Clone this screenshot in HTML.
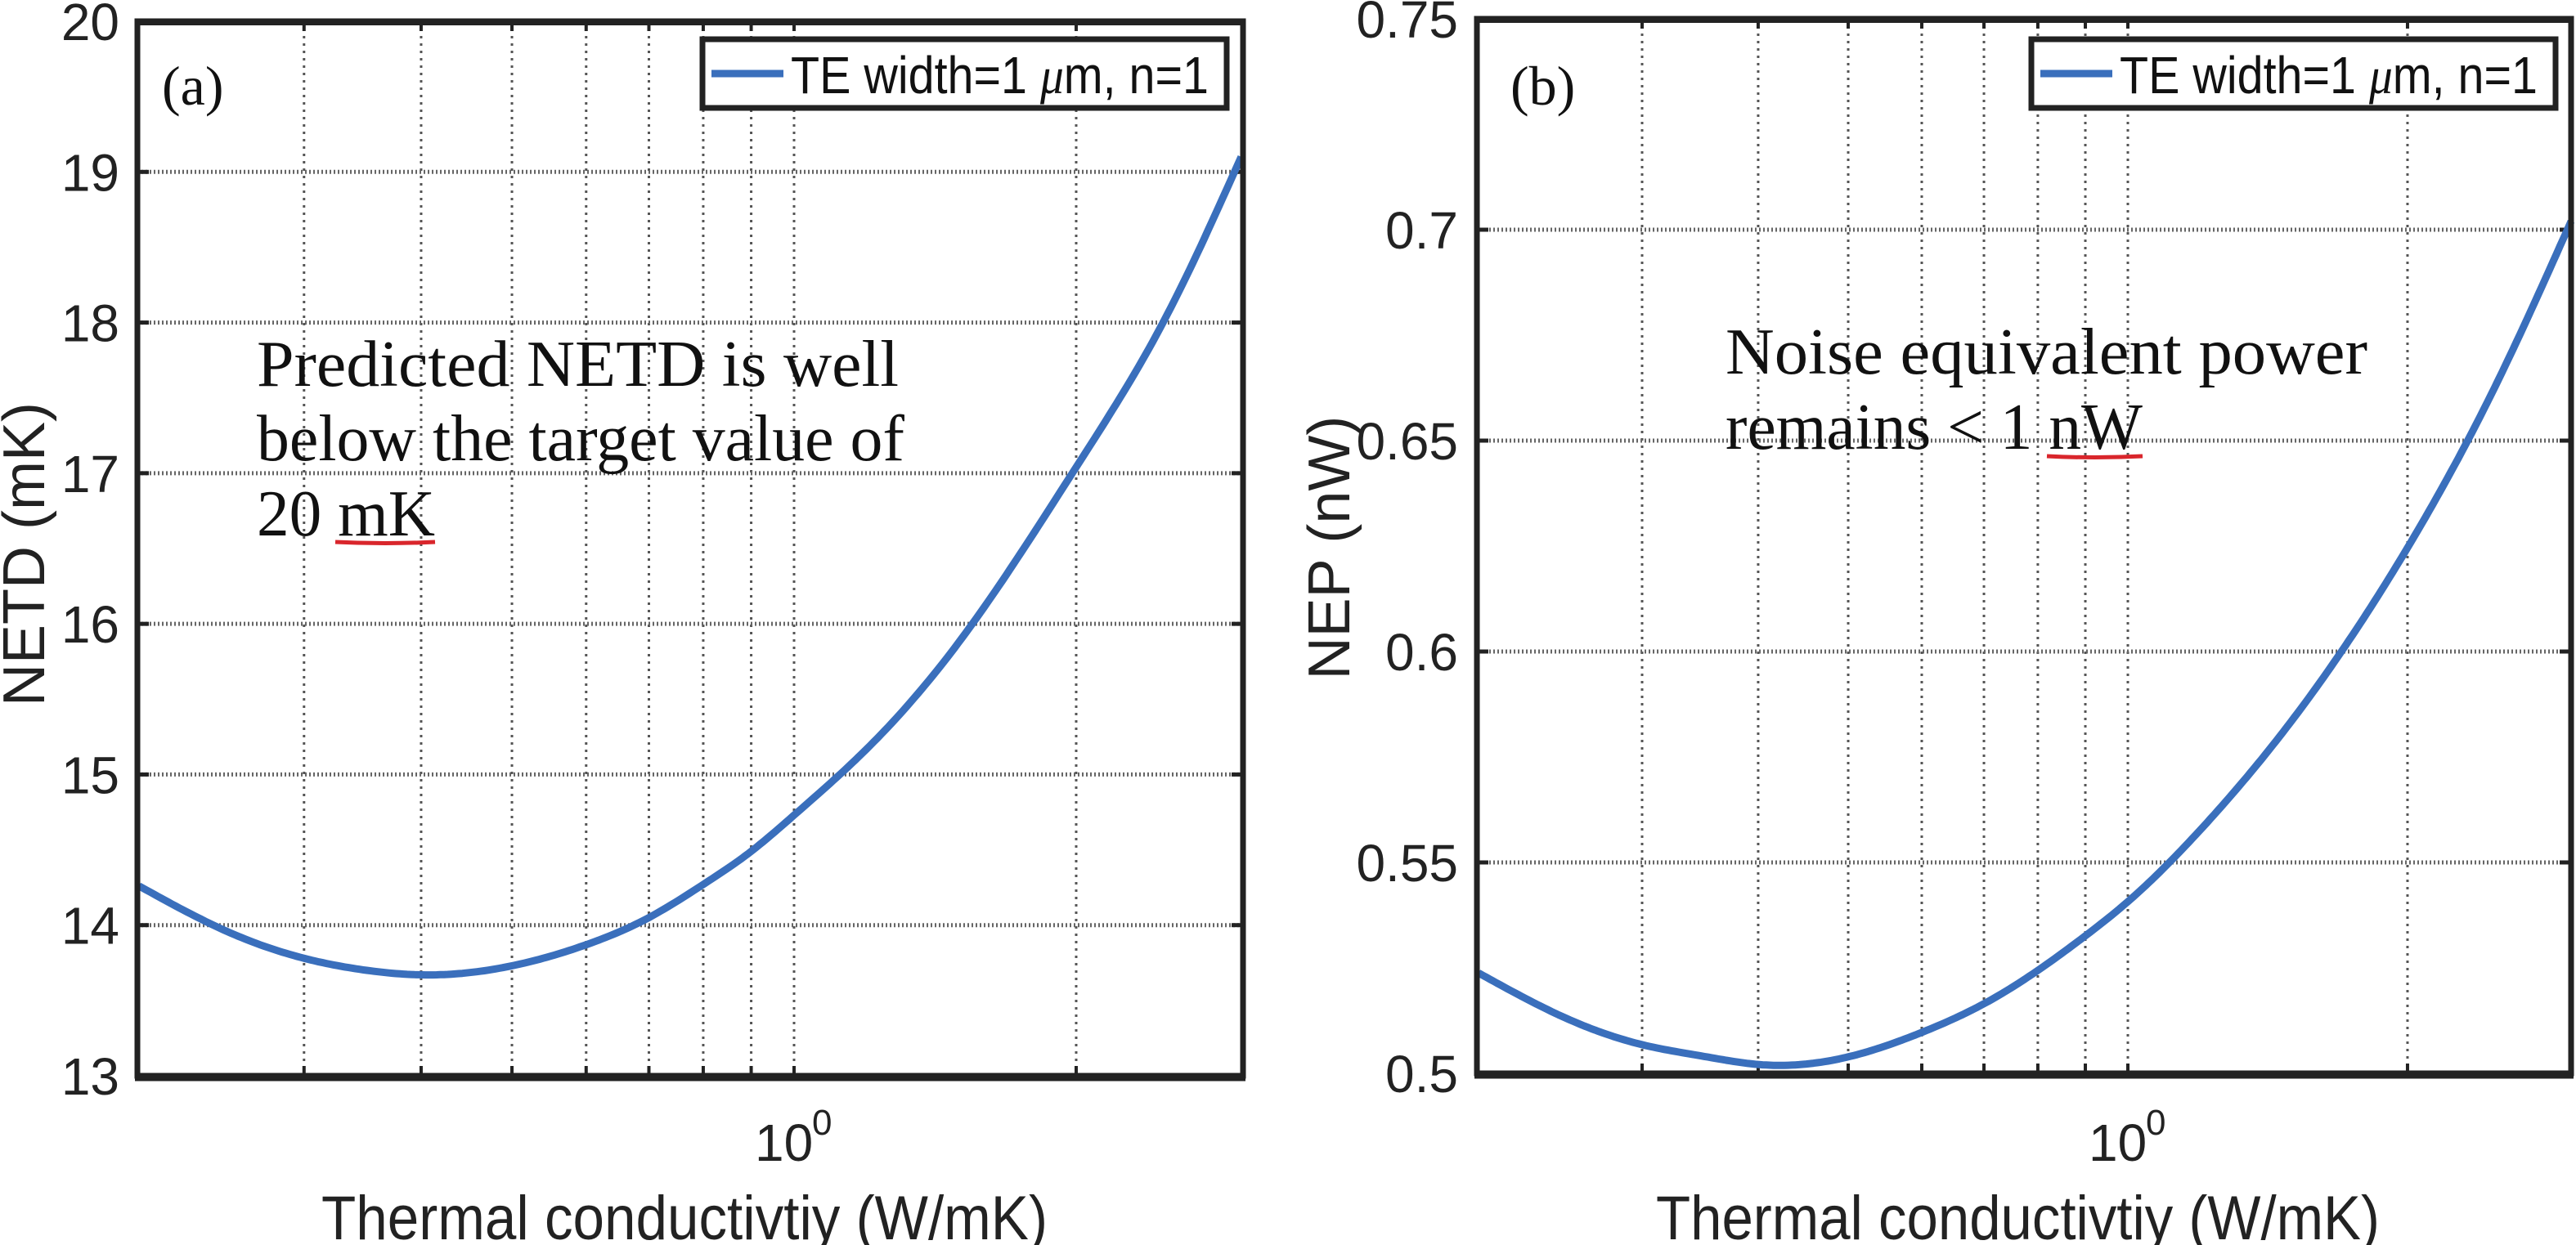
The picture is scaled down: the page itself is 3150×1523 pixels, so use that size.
<!DOCTYPE html>
<html><head><meta charset="utf-8">
<style>
html,body{margin:0;padding:0;background:#fff;}
svg{display:block;}
</style></head>
<body>
<svg id="fig" width="3150" height="1523" viewBox="0 0 3150 1523" xmlns="http://www.w3.org/2000/svg">
<rect x="0" y="0" width="3150" height="1523" fill="#fff"/>
</svg>
<script>
// ---- data ----
const kValues = [0.2,0.25,0.3,0.35,0.4,0.5,0.6,0.7,0.8,0.9,1.0,1.2,1.5,2.0,2.5,3.0];
const netdValues = [14.26,13.95,13.78,13.70,13.67,13.73,13.87,14.05,14.27,14.49,14.73,15.18,15.88,17.04,18.05,19.1];
const nepValues = [0.5238,0.5128,0.5068,0.504,0.5021,0.5039,0.5097,0.5165,0.5244,0.5326,0.5407,0.558,0.5835,0.6246,0.664,0.702];
const xGridValues = [0.3,0.4,0.5,0.6,0.7,0.8,0.9,1,2];
const netdTicks = [13,14,15,16,17,18,19,20];
const netdTickLabels = ["13","14","15","16","17","18","19","20"];
const nepTicks = [0.5,0.55,0.6,0.65,0.7,0.75];
const nepTickLabels = ["0.5","0.55","0.6","0.65","0.7","0.75"];

const NS = "http://www.w3.org/2000/svg";
const svg = document.getElementById('fig');
function mk(tag, attrs, parent){
  const e = document.createElementNS(NS, tag);
  for (const k in attrs) e.setAttribute(k, attrs[k]);
  (parent||svg).appendChild(e);
  return e;
}
// natural cubic spline
function spline(xs, ys){
  const n = xs.length, h=[], a=[], l=[1], mu=[0], z=[0], c=new Array(n).fill(0), b=[], d=[];
  for (let i=0;i<n-1;i++) h.push(xs[i+1]-xs[i]);
  for (let i=1;i<n-1;i++) a[i]=3/h[i]*(ys[i+1]-ys[i])-3/h[i-1]*(ys[i]-ys[i-1]);
  for (let i=1;i<n-1;i++){ l[i]=2*(xs[i+1]-xs[i-1])-h[i-1]*mu[i-1]; mu[i]=h[i]/l[i]; z[i]=(a[i]-h[i-1]*z[i-1])/l[i]; }
  l[n-1]=1; z[n-1]=0;
  for (let j=n-2;j>=0;j--){ c[j]=z[j]-mu[j]*c[j+1]; b[j]=(ys[j+1]-ys[j])/h[j]-h[j]*(c[j+1]+2*c[j])/3; d[j]=(c[j+1]-c[j])/(3*h[j]); }
  return function(x){
    let j=0; while (j<n-2 && x>xs[j+1]) j++;
    const t=x-xs[j];
    return ys[j]+b[j]*t+c[j]*t*t+d[j]*t*t*t;
  };
}

function drawPanel(cfg){
  const g = mk('g', {});
  
  
  const L=cfg.left,R=cfg.right,T=cfg.top,B=cfg.bottom;
  const xs = v => cfg.x0 + cfg.D*Math.log10(v);
  const ys = v => B - (v-cfg.ymin)/(cfg.ymax-cfg.ymin)*(B-T);
  xGridValues.forEach(v=>{
    const l = mk('line',{x1:xs(v),x2:xs(v),y1:T,y2:B,stroke:'#555','stroke-width':3,'stroke-dasharray':'3 6'},g);
    
    
    mk('line',{x1:xs(v),x2:xs(v),y1:B,y2:B-12,stroke:'#222','stroke-width':4},g);
    mk('line',{x1:xs(v),x2:xs(v),y1:T,y2:T+12,stroke:'#222','stroke-width':4},g);
  });
  cfg.ticks.forEach((v,i)=>{
    const y = ys(v);
    if (i>0 && i<cfg.ticks.length-1){
      const l = mk('line',{x1:L,x2:R,y1:y,y2:y,stroke:'#666','stroke-width':5,'stroke-dasharray':'2 3'},g);
      
      
      mk('line',{x1:L,x2:L+14,y1:y,y2:y,stroke:'#222','stroke-width':5},g);
      mk('line',{x1:R,x2:R-14,y1:y,y2:y,stroke:'#222','stroke-width':5},g);
    }
    const t = mk('text',{x:cfg.tickRight,y:y+23,'text-anchor':'end','font-family':'Liberation Sans, sans-serif','font-size':64,fill:'#222'},g);
    t.textContent = cfg.tickLabels[i];
    
    
  });
  // curve via spline in log space
  const us = kValues.map(k=>Math.log10(k));
  const f = spline(us, cfg.values);
  let d = '';
  const N = 300;
  for (let i=0;i<=N;i++){
    const u = us[0] + (us[us.length-1]-us[0])*i/N;
    const px = cfg.x0 + cfg.D*u, py = ys(f(u));
    d += (i? ' L':'M')+px.toFixed(1)+','+py.toFixed(1);
  }
  const c = mk('path',{d:d,fill:'none',stroke:'#3a6fbc','stroke-width':9,'stroke-linejoin':'round'},g);
  
  
  const fr = mk('rect',{x:L,y:T,width:R-L,height:B-T,fill:'none',stroke:'#222','stroke-width':7},g);
  
  
  mk('line',{x1:L-3,x2:R+3,y1:B+2,y2:B+2,stroke:'#222','stroke-width':9},g);
  mk('line',{x1:L-3,x2:R+3,y1:T+1,y2:T+1,stroke:'#222','stroke-width':8},g);
  const xl = mk('text',{x:xs(1)-48,y:1420,'font-family':'Liberation Sans, sans-serif','font-size':64,fill:'#222'},g);
  xl.textContent='10';
  
  
  const xe = mk('text',{x:xs(1)+22,y:1388,'font-family':'Liberation Sans, sans-serif','font-size':44,fill:'#222'},g);
  xe.textContent='0';
  
  
  const xt = mk('text',{x:cfg.xtitleX,y:1516,'font-family':'Liberation Sans, sans-serif','font-size':76,fill:'#222',textLength:cfg.xtitleW,lengthAdjust:'spacingAndGlyphs'},g);
  xt.textContent='Thermal conductivtiy (W/mK)';
  
  
  const yt = mk('text',{x:0,y:0,'text-anchor':'middle','font-family':'Liberation Sans, sans-serif','font-size':72,fill:'#222',transform:'translate('+(cfg.ytitleX)+','+cfg.ytitleY+') rotate(-90)'},g);
  yt.textContent=cfg.ytitle;
  
  
  const lg = mk('g',{},g);
  
  
  mk('rect',{x:cfg.legX,y:48,width:cfg.legW,height:84,fill:'#fff',stroke:'#222','stroke-width':7},lg);
  mk('line',{x1:cfg.legX+11,x2:cfg.legX+99,y1:90,y2:90,stroke:'#3a6fbc','stroke-width':9},lg);
  const lt = mk('text',{x:cfg.legX+108,y:114,'font-family':'Liberation Sans, sans-serif','font-size':64,fill:'#111',textLength:cfg.legW-130,lengthAdjust:'spacingAndGlyphs'},lg);
  lt.innerHTML='TE width=1  <tspan font-family="Liberation Serif, serif" font-style="italic">μ</tspan>m, n=1';
  
  
  const pl = mk('text',{x:cfg.labelX,y:128,'font-family':'Liberation Serif, serif','font-size':68,fill:'#111'},g);
  pl.textContent=cfg.label;
  
  
  cfg.notes.forEach(n=>{
    const t = mk('text',{x:n.x,y:n.y,'font-family':'Liberation Serif, serif','font-size':80,fill:'#111'},g);
    if (n.w){ t.setAttribute('textLength', n.w); t.setAttribute('lengthAdjust','spacingAndGlyphs'); }
    t.textContent=n.t;
    
    
  });
  const u = mk('path',{d:'M'+cfg.ul[0]+','+cfg.ul[2]+' Q'+((cfg.ul[0]+cfg.ul[1])/2)+','+(cfg.ul[2]+3)+' '+cfg.ul[1]+','+cfg.ul[2],fill:'none',stroke:'#d9262c','stroke-width':5},g);
  
  
}

drawPanel({name:'netd-panel',left:168,right:1520,top:26,bottom:1316,x0:971,D:1146,
  ymin:13,ymax:20,values:netdValues,ticks:netdTicks,tickLabels:netdTickLabels,tickRight:146,
  xtitleX:393,xtitleW:888,ytitle:'NETD (mK)',ytitleX:54,ytitleY:678,
  legX:859,legW:641,label:'(a)',labelX:198,
  notes:[{x:314,y:472,t:'Predicted NETD is well',w:785},{x:314,y:563,t:'below the target value of',w:792},{x:314,y:655,t:'20 mK',w:218}],
  ul:[410,532,663]});
drawPanel({name:'nep-panel',left:1806,right:3144,top:23,bottom:1313,x0:2602,D:1136,
  ymin:0.5,ymax:0.75,values:nepValues,ticks:nepTicks,tickLabels:nepTickLabels,tickRight:1783,
  xtitleX:2025,xtitleW:885,ytitle:'NEP (nW)',ytitleX:1650,ytitleY:670,
  legX:2484,legW:641,label:'(b)',labelX:1847,
  notes:[{x:2110,y:457,t:'Noise equivalent power',w:785},{x:2110,y:549,t:'remains < 1 nW',w:510}],
  ul:[2503,2620,558]});
</script>
</body></html>
